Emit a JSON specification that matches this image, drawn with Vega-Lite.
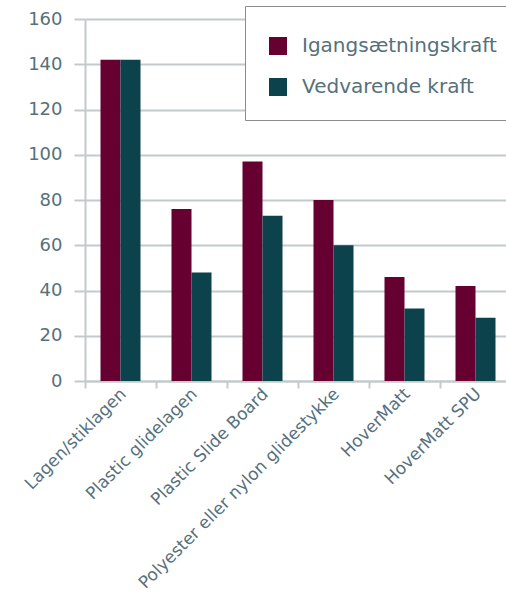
{
  "$schema": "https://vega.github.io/schema/vega-lite/v6.json",
  "autosize": {"type": "none"},
  "padding": {"left": 85, "top": 19, "right": 0, "bottom": 215},
  "width": 426,
  "height": 362,
  "background": "white",
  "config": {
    "view": {"stroke": null},
    "font": "DejaVu Sans"
  },
  "data": {
    "values": [
      {"kategori": "Lagen/stiklagen", "serie": "Igangsætningskraft", "vaerdi": 142},
      {"kategori": "Lagen/stiklagen", "serie": "Vedvarende kraft", "vaerdi": 142},
      {"kategori": "Plastic glidelagen", "serie": "Igangsætningskraft", "vaerdi": 76},
      {"kategori": "Plastic glidelagen", "serie": "Vedvarende kraft", "vaerdi": 48},
      {"kategori": "Plastic Slide Board", "serie": "Igangsætningskraft", "vaerdi": 97},
      {"kategori": "Plastic Slide Board", "serie": "Vedvarende kraft", "vaerdi": 73},
      {"kategori": "Polyester eller nylon glidestykke", "serie": "Igangsætningskraft", "vaerdi": 80},
      {"kategori": "Polyester eller nylon glidestykke", "serie": "Vedvarende kraft", "vaerdi": 60},
      {"kategori": "HoverMatt", "serie": "Igangsætningskraft", "vaerdi": 46},
      {"kategori": "HoverMatt", "serie": "Vedvarende kraft", "vaerdi": 32},
      {"kategori": "HoverMatt SPU", "serie": "Igangsætningskraft", "vaerdi": 42},
      {"kategori": "HoverMatt SPU", "serie": "Vedvarende kraft", "vaerdi": 28}
    ]
  },
  "mark": {"type": "bar"},
  "encoding": {
    "x": {
      "field": "kategori",
      "type": "nominal",
      "sort": null,
      "scale": {"paddingInner": 0, "paddingOuter": 0},
      "axis": {
        "title": null,
        "bandPosition": 0,
        "labelAngle": -45,
        "labelAlign": "right",
        "labelBaseline": "middle",
        "labelOffset": 3,
        "labelFontSize": 17,
        "labelColor": "#56707c",
        "labelPadding": 3,
        "labelLimit": 400,
        "tickColor": "#c4cacc",
        "tickWidth": 2,
        "tickSize": 7,
        "domainColor": "#c4cacc",
        "domainWidth": 2
      }
    },
    "xOffset": {
      "field": "serie",
      "type": "nominal",
      "scale": {"paddingInner": 0, "paddingOuter": 0.775}
    },
    "y": {
      "field": "vaerdi",
      "type": "quantitative",
      "scale": {"domain": [0, 160], "nice": false},
      "axis": {
        "title": null,
        "values": [0, 20, 40, 60, 80, 100, 120, 140, 160],
        "labelFontSize": 18,
        "labelColor": "#56707c",
        "labelPadding": 12,
        "tickSize": 11,
        "tickColor": "#c4cacc",
        "tickWidth": 2,
        "gridColor": "#c4cacc",
        "gridWidth": 2,
        "domainColor": "#c4cacc",
        "domainWidth": 2
      }
    },
    "color": {
      "field": "serie",
      "type": "nominal",
      "scale": {"domain": ["Igangsætningskraft", "Vedvarende kraft"], "range": ["#650030", "#0c424b"]},
      "legend": {
        "title": " ",
        "titleFontSize": 7,
        "titlePadding": 0,
        "orient": "none",
        "legendX": 160,
        "legendY": -13,
        "padding": 23,
        "rowPadding": 21,
        "fillColor": "white",
        "strokeColor": "#8c8c8c",
        "symbolType": "square",
        "symbolSize": 324,
        "symbolStrokeWidth": 0,
        "symbolOpacity": 1,
        "labelFontSize": 20,
        "labelColor": "#56707c",
        "labelOffset": 14,
        "labelLimit": 400
      }
    }
  }
}
